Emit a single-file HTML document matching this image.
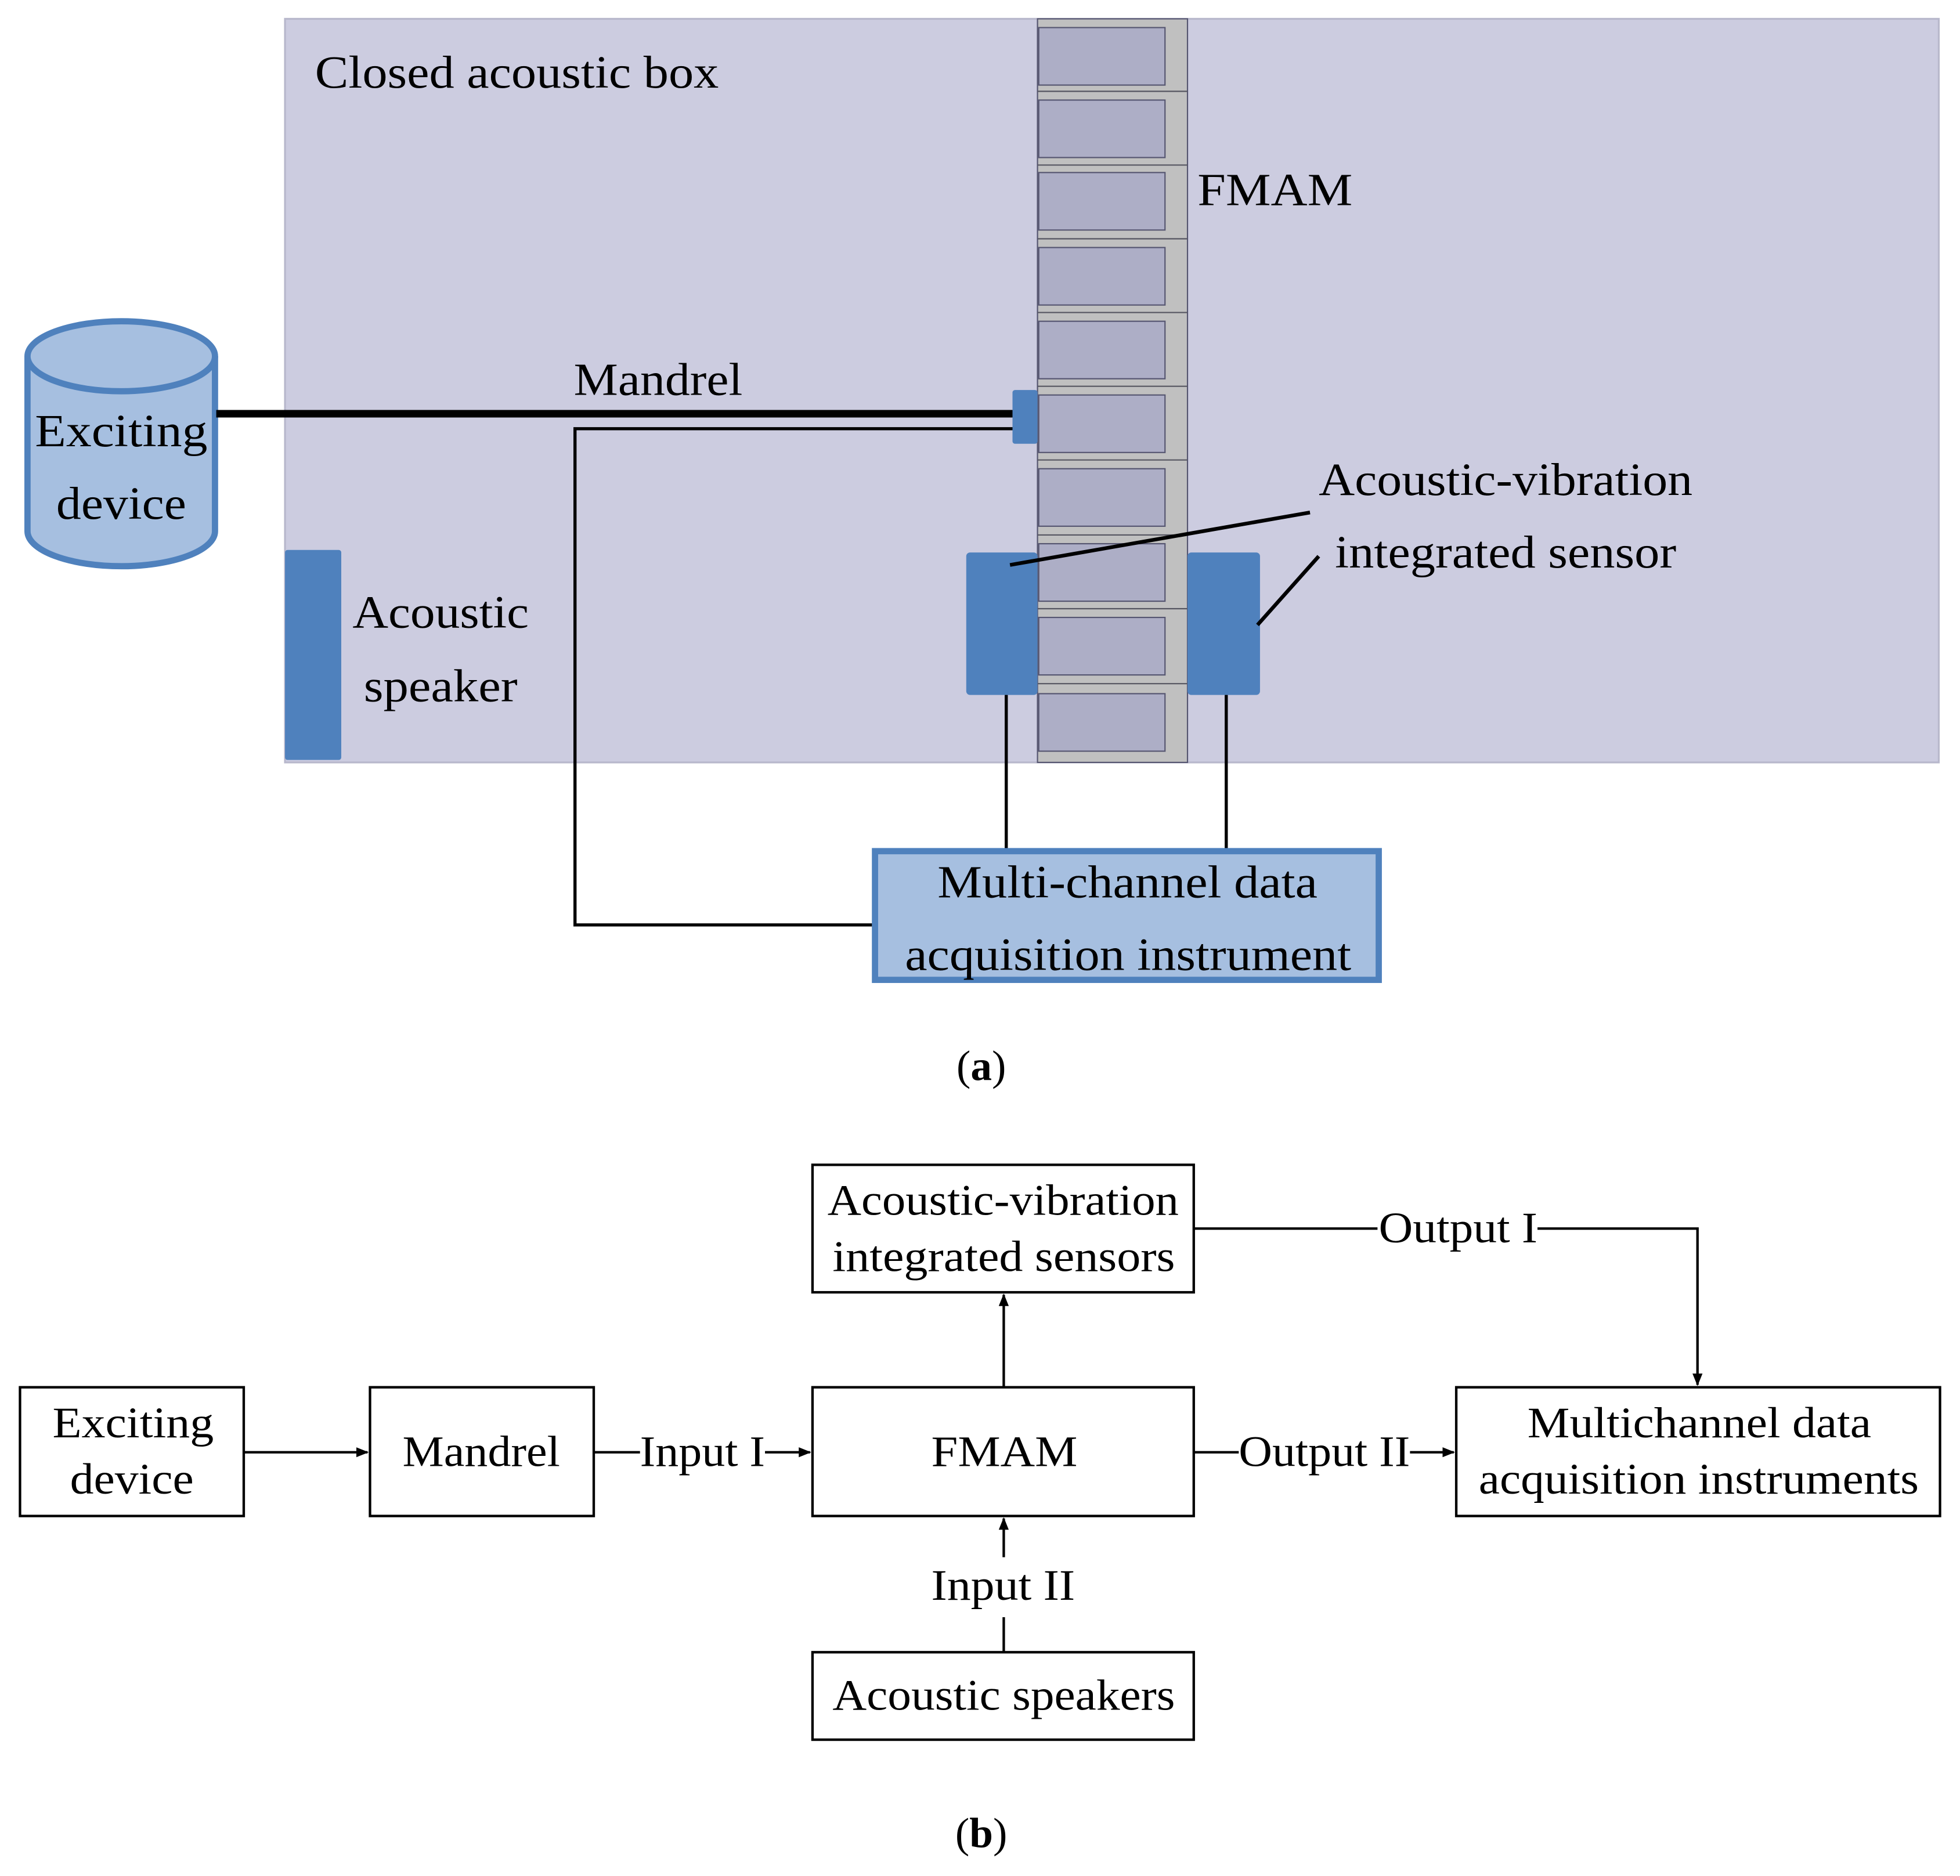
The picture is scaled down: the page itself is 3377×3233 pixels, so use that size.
<!DOCTYPE html>
<html><head><style>html,body{margin:0;padding:0;background:#fff}svg{display:block}</style></head><body>
<svg width="3377" height="3233" viewBox="0 0 1568 1501" xmlns="http://www.w3.org/2000/svg" font-family="'Liberation Serif',serif">
<defs><marker id="ar" markerWidth="10" markerHeight="8" refX="9" refY="4" orient="auto" markerUnits="userSpaceOnUse"><path d="M0,0 L10,4 L0,8 z" fill="#000"/></marker></defs>
<rect x="228" y="15" width="1323" height="595" fill="#cccce0" stroke="#b8b8cc" stroke-width="1.5"/>
<rect x="830" y="15" width="120" height="595" fill="#c0c0c0" stroke="#555570" stroke-width="1"/>
<g fill="#adaec6" stroke="#555570" stroke-width="1">
<rect x="831" y="22" width="101" height="46"/><rect x="831" y="80" width="101" height="46"/><rect x="831" y="138" width="101" height="46"/><rect x="831" y="198" width="101" height="46"/><rect x="831" y="257" width="101" height="46"/><rect x="831" y="316" width="101" height="46"/><rect x="831" y="375" width="101" height="46"/><rect x="831" y="435" width="101" height="46"/><rect x="831" y="494" width="101" height="46"/><rect x="831" y="555" width="101" height="46"/>
</g>
<g stroke="#555560" stroke-width="1"><line x1="830" y1="73" x2="950" y2="73"/><line x1="830" y1="132" x2="950" y2="132"/><line x1="830" y1="191" x2="950" y2="191"/><line x1="830" y1="250" x2="950" y2="250"/><line x1="830" y1="309" x2="950" y2="309"/><line x1="830" y1="368" x2="950" y2="368"/><line x1="830" y1="428" x2="950" y2="428"/><line x1="830" y1="487" x2="950" y2="487"/><line x1="830" y1="547" x2="950" y2="547"/></g>
<g font-size="37" lengthAdjust="spacingAndGlyphs">
<text x="252" y="70" textLength="323" lengthAdjust="spacingAndGlyphs">Closed acoustic box</text>
<text x="958" y="164" textLength="124" lengthAdjust="spacingAndGlyphs">FMAM</text>
</g>
<path d="M22,285 L22,425 A75,28 0 0 0 172,425 L172,285" fill="#a6bfe0" stroke="#4f81bd" stroke-width="5"/>
<ellipse cx="97" cy="285" rx="75" ry="28" fill="#a6bfe0" stroke="#4f81bd" stroke-width="5"/>
<g font-size="37">
<text x="28" y="357" textLength="138" lengthAdjust="spacingAndGlyphs">Exciting</text>
<text x="45" y="415" textLength="104" lengthAdjust="spacingAndGlyphs">device</text>
</g>
<line x1="173" y1="331" x2="812" y2="331" stroke="#000" stroke-width="6"/>
<text x="459" y="316" font-size="37" textLength="135" lengthAdjust="spacingAndGlyphs">Mandrel</text>
<polyline points="812,343 460,343 460,740 700,740" fill="none" stroke="#000" stroke-width="2.5"/>
<rect x="810" y="312" width="20" height="43" rx="2" fill="#4f81bd"/>
<rect x="228" y="440" width="45" height="168" rx="2" fill="#4f81bd"/>
<g font-size="37">
<text x="282" y="502" textLength="141" lengthAdjust="spacingAndGlyphs">Acoustic</text>
<text x="291" y="561" textLength="123" lengthAdjust="spacingAndGlyphs">speaker</text>
</g>
<rect x="773" y="442" width="57" height="114" rx="3" fill="#4f81bd"/>
<rect x="950" y="442" width="58" height="114" rx="3" fill="#4f81bd"/>
<line x1="808" y1="452" x2="1048" y2="410" stroke="#000" stroke-width="3"/>
<line x1="1006" y1="500" x2="1055" y2="445" stroke="#000" stroke-width="3"/>
<g font-size="37">
<text x="1055" y="396" textLength="299" lengthAdjust="spacingAndGlyphs">Acoustic-vibration</text>
<text x="1068" y="454" textLength="273" lengthAdjust="spacingAndGlyphs">integrated sensor</text>
</g>
<line x1="805" y1="556" x2="805" y2="681" stroke="#000" stroke-width="2.5"/>
<line x1="981" y1="556" x2="981" y2="681" stroke="#000" stroke-width="2.5"/>
<rect x="700" y="681" width="403" height="103" fill="#a6bfe0" stroke="#4f81bd" stroke-width="5"/>
<g font-size="37">
<text x="750" y="718" textLength="304" lengthAdjust="spacingAndGlyphs">Multi-channel data</text>
<text x="724" y="776" textLength="357" lengthAdjust="spacingAndGlyphs">acquisition instrument</text>
</g>
<text x="785" y="864" font-size="34" text-anchor="middle">(<tspan font-weight="bold">a</tspan>)</text>
<g fill="#fff" stroke="#000" stroke-width="2">
<rect x="16" y="1110" width="179" height="103"/><rect x="296" y="1110" width="179" height="103"/><rect x="650" y="1110" width="305" height="103"/><rect x="650" y="932" width="305" height="102"/><rect x="1165" y="1110" width="387" height="103"/><rect x="650" y="1322" width="305" height="70"/>
</g>
<g font-size="35">
<text x="42" y="1150" textLength="129" lengthAdjust="spacingAndGlyphs">Exciting</text><text x="56" y="1195" textLength="99" lengthAdjust="spacingAndGlyphs">device</text>
<text x="322" y="1173" textLength="126" lengthAdjust="spacingAndGlyphs">Mandrel</text>
<text x="745" y="1173" textLength="117" lengthAdjust="spacingAndGlyphs">FMAM</text>
<text x="662" y="972" textLength="281" lengthAdjust="spacingAndGlyphs">Acoustic-vibration</text><text x="666" y="1017" textLength="274" lengthAdjust="spacingAndGlyphs">integrated sensors</text>
<text x="1222" y="1150" textLength="275" lengthAdjust="spacingAndGlyphs">Multichannel data</text><text x="1183" y="1195" textLength="352" lengthAdjust="spacingAndGlyphs">acquisition instruments</text>
<text x="666" y="1368" textLength="274" lengthAdjust="spacingAndGlyphs">Acoustic speakers</text>
<text x="745" y="1280" textLength="115" lengthAdjust="spacingAndGlyphs">Input II</text>
<text x="512" y="1173" textLength="100" lengthAdjust="spacingAndGlyphs">Input I</text>
<text x="991" y="1173" textLength="137" lengthAdjust="spacingAndGlyphs">Output II</text>
<text x="1103" y="994" textLength="127" lengthAdjust="spacingAndGlyphs">Output I</text>
</g>
<g stroke="#000" stroke-width="2" fill="none">
<line x1="195" y1="1162" x2="294" y2="1162" marker-end="url(#ar)"/>
<line x1="475" y1="1162" x2="512" y2="1162"/>
<line x1="612" y1="1162" x2="648" y2="1162" marker-end="url(#ar)"/>
<line x1="803" y1="1110" x2="803" y2="1036" marker-end="url(#ar)"/>
<line x1="955" y1="1162" x2="991" y2="1162"/>
<line x1="1128" y1="1162" x2="1163" y2="1162" marker-end="url(#ar)"/>
<line x1="955" y1="983" x2="1102" y2="983"/>
<polyline points="1230,983 1358,983 1358,1108" marker-end="url(#ar)"/>
<line x1="803" y1="1322" x2="803" y2="1294"/>
<line x1="803" y1="1246" x2="803" y2="1215" marker-end="url(#ar)"/>
</g>
<text x="785" y="1478" font-size="34" text-anchor="middle">(<tspan font-weight="bold">b</tspan>)</text>
</svg>
</body></html>
